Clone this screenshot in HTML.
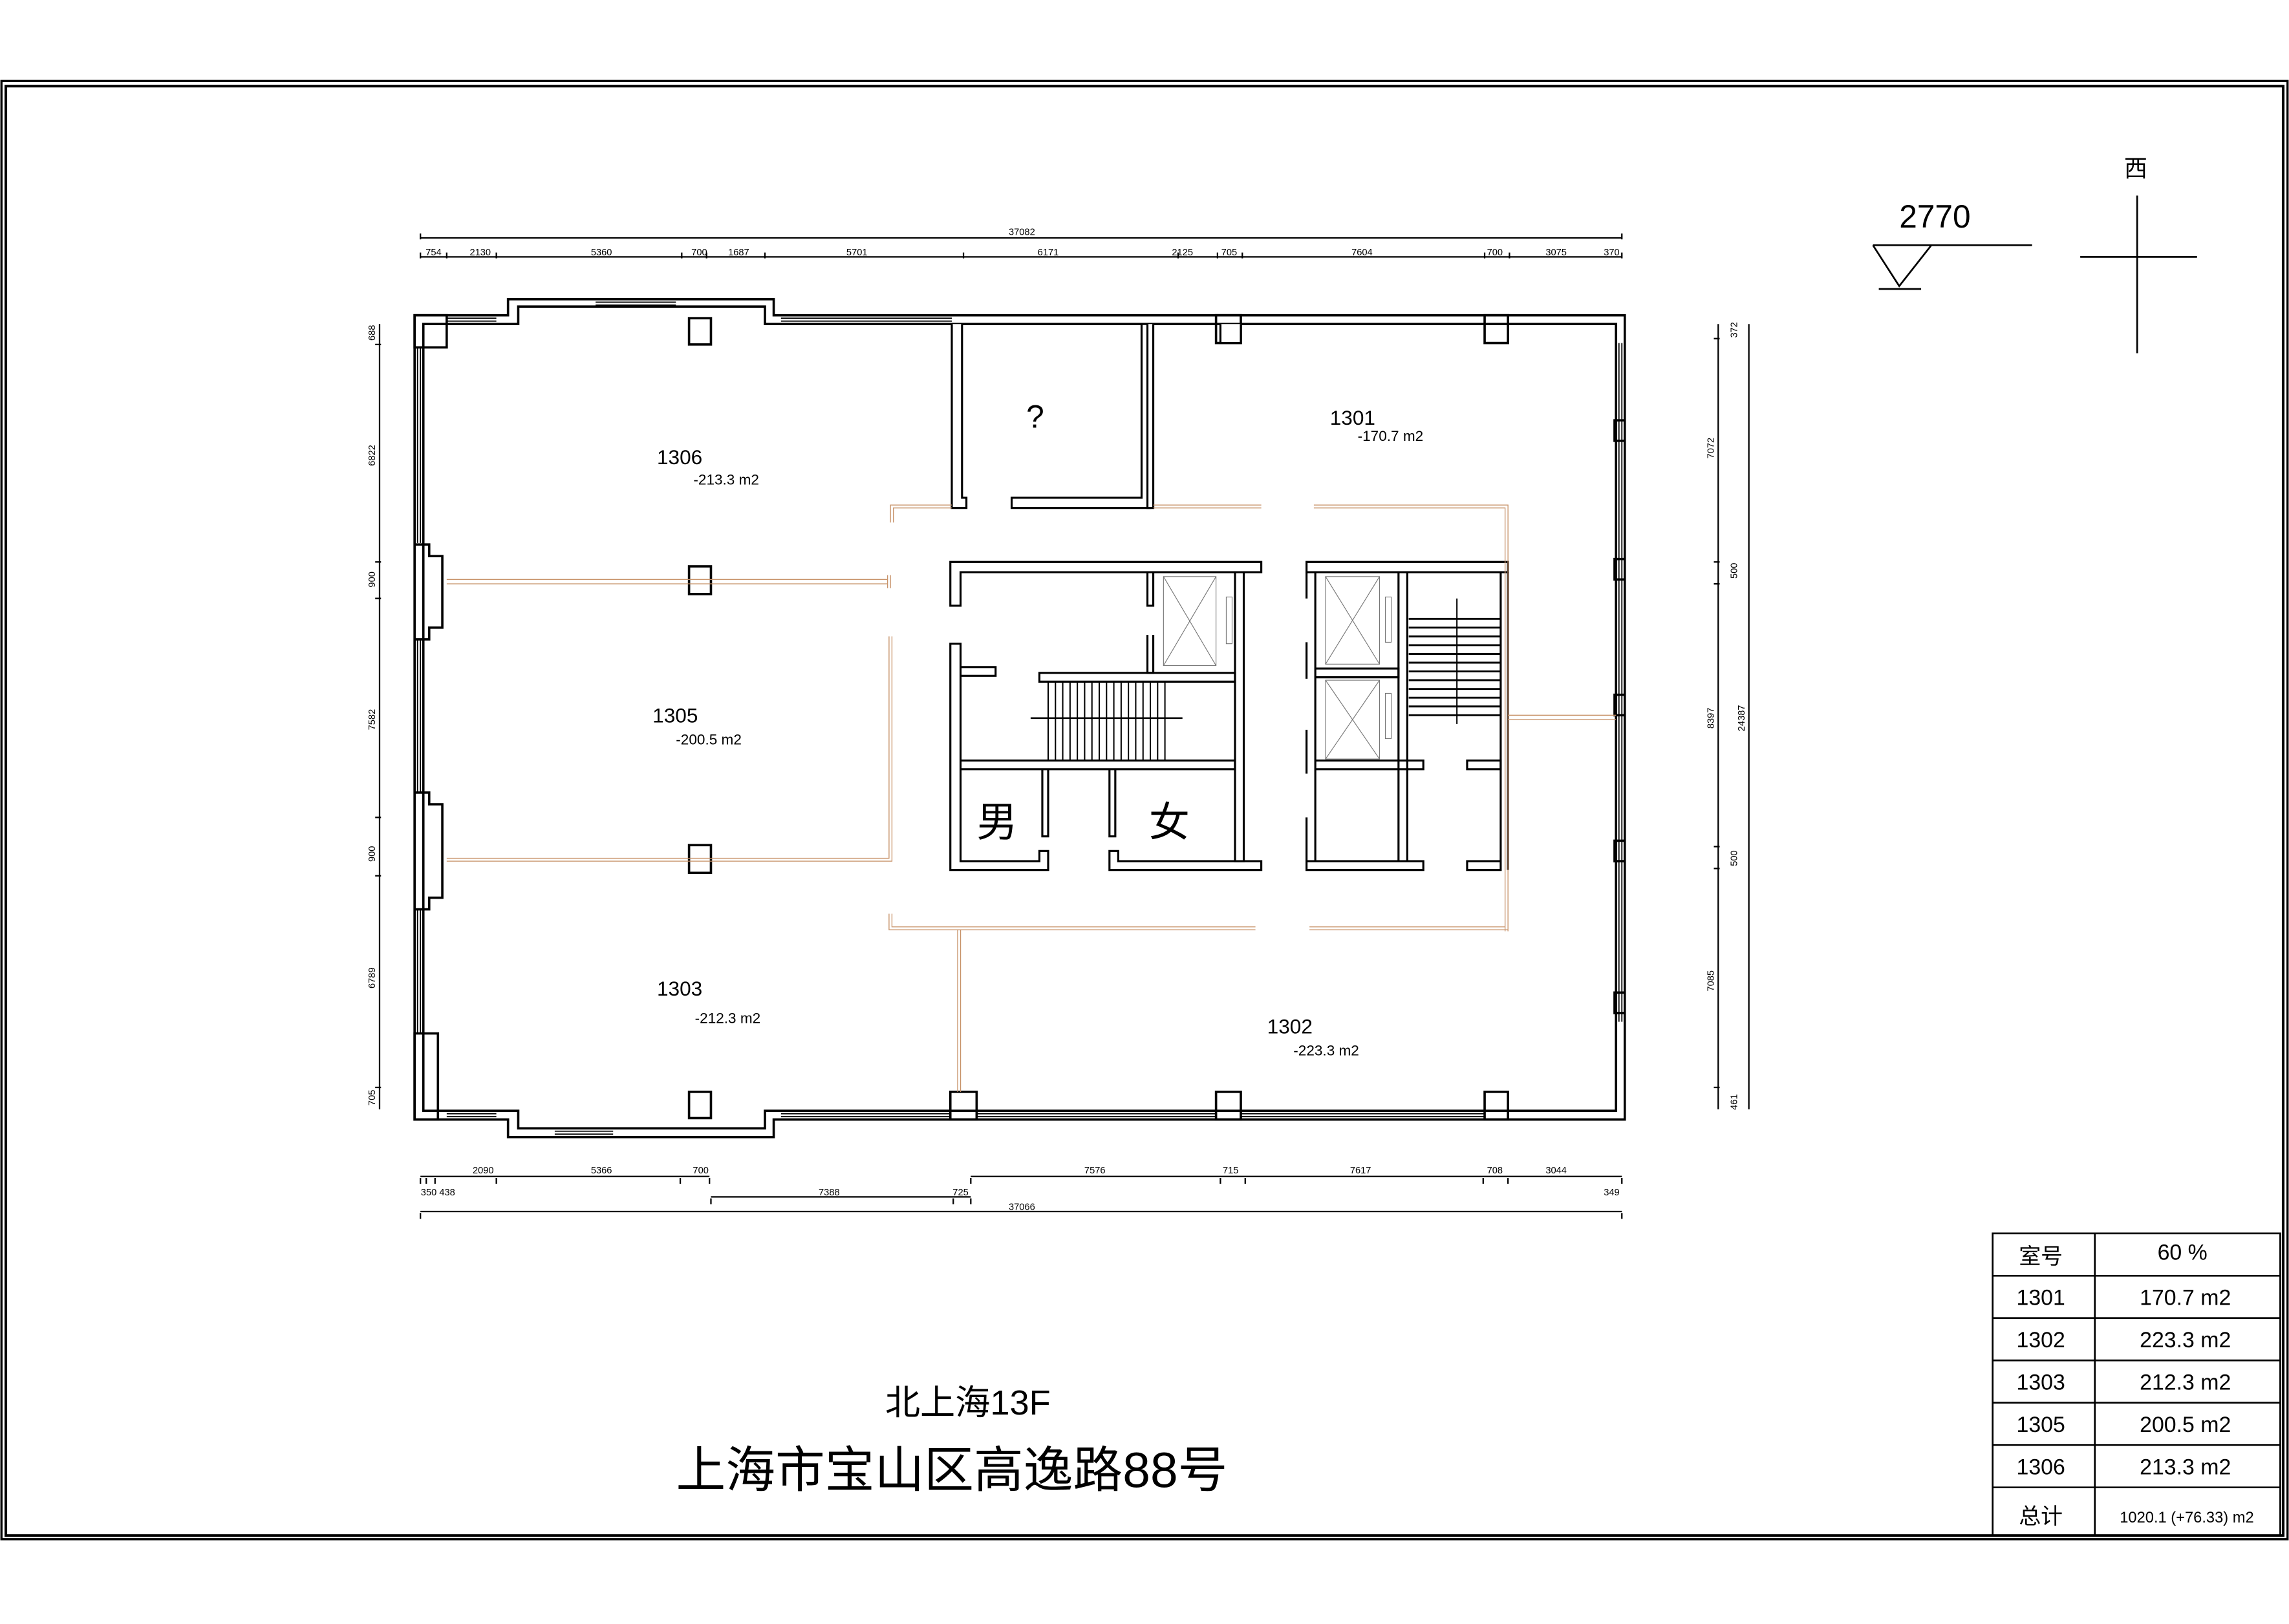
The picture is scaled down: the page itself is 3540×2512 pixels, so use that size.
<!DOCTYPE html>
<html><head><meta charset="utf-8"><style>
html,body{margin:0;padding:0;background:#fff;}
svg{display:block}
text{font-family:"Liberation Sans","Noto Sans CJK SC",sans-serif;fill:#000}
</style></head><body>
<svg width="3540" height="2512" viewBox="0 0 1568 1112.6" preserveAspectRatio="none" xmlns="http://www.w3.org/2000/svg">
<rect width="1568" height="1112.6" fill="#fff"/>
<!-- frame -->
<g fill="none" stroke="#000">
<rect x="1" y="55.5" width="1566" height="999" stroke-width="1.5"/>
<rect x="4" y="59" width="1560" height="993" stroke-width="1.8"/>
</g>
<!-- building walls -->
<g fill="none" stroke="#000" stroke-width="1.6">
<path d="M284 216 H348 V205 H530 V216 H1113 V767 H530 V779 H348 V767 H284 Z"/>
<path d="M290 222 H355 V210 H524 V222 H1107 V761 H524 V773 H355 V761 H290 Z"/>
<!-- corner pilasters -->
<rect x="284" y="216" width="22" height="22"/>
<rect x="284" y="708" width="16" height="59"/>
<path d="M284 373 H294 V381 H303 V430 H294 V438 H284"/>
<path d="M284 543 H294 V551 H303 V615 H294 V623 H284"/>
<!-- columns -->
<rect x="472" y="218" width="15" height="18"/>
<rect x="472" y="388" width="15" height="19"/>
<rect x="472" y="579" width="15" height="19"/>
<rect x="472" y="748" width="15" height="18"/>
<rect x="833" y="216" width="17" height="19"/>
<rect x="1017" y="216" width="16" height="19"/>
<rect x="651" y="748" width="18" height="19"/>
<rect x="833" y="748" width="17" height="19"/>
<rect x="1017" y="748" width="16" height="19"/>
<path d="M1113 288 h-7 v14 h7 M1113 383 h-7 v14 h7 M1113 476 h-7 v14 h7 M1113 576 h-7 v14 h7 M1113 680 h-7 v14 h7"/>
</g>
<!-- windows -->
<g stroke="#000" stroke-width="0.8">
<path d="M408 207 H463 M408 209 H463 M306 218 H340 M306 220 H340 M535 218 H652 M535 220 H652 M286 238 V372 M288 238 V372 M286 438 V543 M288 438 V543 M286 623 V708 M288 623 V708"/>
<path d="M1109 235 V700 M1111 235 V700 M306 763 H340 M306 765 H340 M535 763 H651 M535 765 H651 M669 763 H833 M669 765 H833 M850 763 H1017 M850 765 H1017 M380 775 H420 M380 777 H420"/>
</g>
<!-- ? room -->
<g fill="#fff" stroke="#000" stroke-width="1.4">
<path d="M652 222 V348 H662 V341 H659 V222"/>
<path d="M693 341 V348 H788 V222 H782 V341 Z"/>
<path d="M786 222 V348 H790 V222"/>
<path d="M836 222 V235 H850 V222"/>
</g>
<!-- left core -->
<g fill="none" stroke="#000" stroke-width="1.4">
<path d="M651 385 H864 V392 H658 V415 H651 Z"/>
<path d="M651 441 H658 V590 H712 V583 H718 V596 H651 Z"/>
<path d="M760 583 V596 H864 V590 H766 V583 Z"/>
<path d="M846 392 V590 H852 V392"/>
<path d="M658 521 H846 V527 H658"/>
<path d="M712 461 H846 V467 H712 Z"/>
<path d="M658 457 H682 V463 H658"/>
<path d="M714 527 V573 H718 V527 M760 527 V573 H764 V527"/>
<path d="M786 392 V415 H790 V392 M786 435 V461 H790 V435"/>
</g>
<g stroke="#000" stroke-width="0.9">
<path d="M718 467 V521 M723 467 V521 M728 467 V521 M733 467 V521 M738 467 V521 M743 467 V521 M748 467 V521 M753 467 V521 M758 467 V521 M763 467 V521 M768 467 V521 M773 467 V521 M778 467 V521 M783 467 V521 M788 467 V521 M793 467 V521 M798 467 V521"/>
<path d="M706 492 H810" stroke-width="1.2"/>
</g>
<g fill="none" stroke="#777" stroke-width="0.5">
<rect x="797" y="395" width="36" height="61"/>
<path d="M797 395 L833 456 M833 395 L797 456"/>
<rect x="840" y="409" width="4" height="32"/>
<rect x="908" y="395" width="37" height="60"/>
<path d="M908 395 L945 455 M945 395 L908 455"/>
<rect x="949" y="409" width="4" height="31"/>
<rect x="908" y="466" width="37" height="54"/>
<path d="M908 466 L945 520 M945 466 L908 520"/>
<rect x="949" y="475" width="4" height="31"/>
</g>
<!-- right core -->
<g fill="none" stroke="#000" stroke-width="1.4">
<path d="M895 385 H1033 V392 H895 Z"/>
<path d="M1028 392 V596 H1005 V590 H1028"/>
<path d="M1033 392 V596"/>
<path d="M895 590 H975 V596 H895 Z"/>
<path d="M958 392 V590 M964 392 V590"/>
<path d="M901 392 V590 M895 392 V410 M895 440 V465 M895 500 V530 M895 560 V590"/>
<path d="M901 458 H958 V464 H901 M901 521 H975 V527 H901"/>
<path d="M1005 521 H1028 V527 H1005 Z"/>
</g>
<g stroke="#000" stroke-width="1.3">
<path d="M965 424 H1028 M965 430 H1028 M965 436 H1028 M965 442 H1028 M965 448 H1028 M965 454 H1028 M965 460 H1028 M965 466 H1028 M965 472 H1028 M965 478 H1028 M965 484 H1028 M965 490 H1028"/>
<path d="M998 410 V496" stroke-width="0.9"/>
</g>
<!-- orange partitions -->
<g fill="none" stroke="#c8936a" stroke-width="0.6">
<path d="M610 358 V346 H652 M612 358 V348 H652"/>
<path d="M790 346 H864 M790 348 H864"/>
<path d="M900 346 H1033 V638 M900 348 H1031 V638"/>
<path d="M306 397 H608 M306 400 H608 M608 394 V403 M610 394 V403"/>
<path d="M609 436 V588 H306 M611 436 V590 H306"/>
<path d="M609 626 V637 H860 M611 626 V635 H860"/>
<path d="M897 635 H1031 M897 637 H1033"/>
<path d="M656 637 V748 M658 637 V748"/>
<path d="M1033 490 H1107 M1033 493 H1107"/>
</g>
<!-- dimensions top -->
<g stroke="#000" stroke-width="1">
<path d="M288 163 H1111 M288 176 H1111"/>
<path d="M288 160 v4 M1111 160 v4 M288 173 v4 M306 173 v4 M340 173 v4 M467 173 v4 M484 173 v4 M524 173 v4 M660 173 v4 M807 173 v4 M834 173 v4 M851 173 v4 M1017 173 v4 M1034 173 v4 M1111 173 v4"/>
<path d="M288 806 H486 M665 806 H1111 M487 820 H665 M288 830 H1111"/>
<path d="M288 807 v4 M292 807 v4 M298 807 v4 M340 807 v4 M466 807 v4 M486 807 v4 M665 807 v4 M836 807 v4 M853 807 v4 M1016 807 v4 M1033 807 v4 M1111 807 v4 M487 821 v4 M653 821 v4 M665 821 v4 M288 831 v4 M1111 831 v4"/>
<path d="M260 222 V760 M1177 222 V760 M1198 222 V760"/>
<path d="M257 236 h4 M257 385 h4 M257 410 h4 M257 560 h4 M257 600 h4 M257 745 h4 M1174 232 h4 M1174 385 h4 M1174 400 h4 M1174 580 h4 M1174 595 h4 M1174 745 h4"/>
</g>
<g font-size="6.5" text-anchor="middle">
<text x="700" y="161">37082</text>
<text x="297" y="175">754</text><text x="329" y="175">2130</text><text x="412" y="175">5360</text><text x="479" y="175">700</text><text x="506" y="175">1687</text><text x="587" y="175">5701</text><text x="718" y="175">6171</text><text x="810" y="175">2125</text><text x="842" y="175">705</text><text x="933" y="175">7604</text><text x="1024" y="175">700</text><text x="1066" y="175">3075</text><text x="1104" y="175">370</text>
<text x="331" y="804">2090</text><text x="412" y="804">5366</text><text x="480" y="804">700</text><text x="750" y="804">7576</text><text x="843" y="804">715</text><text x="932" y="804">7617</text><text x="1024" y="804">708</text><text x="1066" y="804">3044</text>
<text x="300" y="819">350 438</text><text x="568" y="819">7388</text><text x="658" y="819">725</text><text x="1104" y="819">349</text><text x="700" y="829">37066</text>
</g>
<g font-size="6.5" text-anchor="middle">
<text transform="translate(257,228) rotate(-90)">688</text>
<text transform="translate(257,312) rotate(-90)">6822</text>
<text transform="translate(257,397) rotate(-90)">900</text>
<text transform="translate(257,493) rotate(-90)">7582</text>
<text transform="translate(257,585) rotate(-90)">900</text>
<text transform="translate(257,670) rotate(-90)">6789</text>
<text transform="translate(257,752) rotate(-90)">705</text>
<text transform="translate(1190,226) rotate(-90)">372</text>
<text transform="translate(1174,307) rotate(-90)">7072</text>
<text transform="translate(1190,391) rotate(-90)">500</text>
<text transform="translate(1174,492) rotate(-90)">8397</text>
<text transform="translate(1195,492) rotate(-90)">24387</text>
<text transform="translate(1190,588) rotate(-90)">500</text>
<text transform="translate(1174,672) rotate(-90)">7085</text>
<text transform="translate(1190,755) rotate(-90)">461</text>
</g>
<!-- room labels -->
<g font-size="14">
<text x="450" y="318">1306</text><text x="447" y="495">1305</text><text x="450" y="682">1303</text><text x="911" y="291">1301</text><text x="868" y="708">1302</text>
<text x="703" y="293" font-size="22">?</text>
</g>
<g font-size="10">
<text x="475" y="332">-213.3 m2</text><text x="463" y="510">-200.5 m2</text><text x="476" y="701">-212.3 m2</text><text x="930" y="302">-170.7 m2</text><text x="886" y="723">-223.3 m2</text>
</g>
<g font-size="28"><text x="669" y="573">男</text><text x="787" y="573">女</text></g>
<!-- level mark -->
<g stroke="#000" stroke-width="1.2" fill="none">
<path d="M1283 168 H1392 M1283 168 L1301 196 L1323 168 M1287 198 H1316"/>
<path d="M1464 134 V242 M1425 176 H1505"/>
</g>
<text x="1301" y="156" font-size="22">2770</text>
<text x="1455" y="121" font-size="16">西</text>
<!-- table -->
<g stroke="#000" stroke-width="1.2" fill="none">
<rect x="1365" y="845" width="197" height="207"/>
<path d="M1435 845 V1052 M1365 874 H1562 M1365 903 H1562 M1365 932 H1562 M1365 961 H1562 M1365 990 H1562 M1365 1019 H1562"/>
</g>
<g font-size="15" text-anchor="middle">
<text x="1398" y="866">室号</text><text x="1495" y="863">60 %</text>
<text x="1398" y="894">1301</text><text x="1497" y="894">170.7 m2</text>
<text x="1398" y="923">1302</text><text x="1497" y="923">223.3 m2</text>
<text x="1398" y="952">1303</text><text x="1497" y="952">212.3 m2</text>
<text x="1398" y="981">1305</text><text x="1497" y="981">200.5 m2</text>
<text x="1398" y="1010">1306</text><text x="1497" y="1010">213.3 m2</text>
<text x="1398" y="1044">总计</text><text x="1498" y="1043" font-size="10.5">1020.1 (+76.33) m2</text>
</g>
<!-- titles -->
<text x="663" y="969" font-size="24" text-anchor="middle">北上海13F</text>
<text x="652" y="1019" font-size="34" text-anchor="middle">上海市宝山区高逸路88号</text>
</svg>
</body></html>
